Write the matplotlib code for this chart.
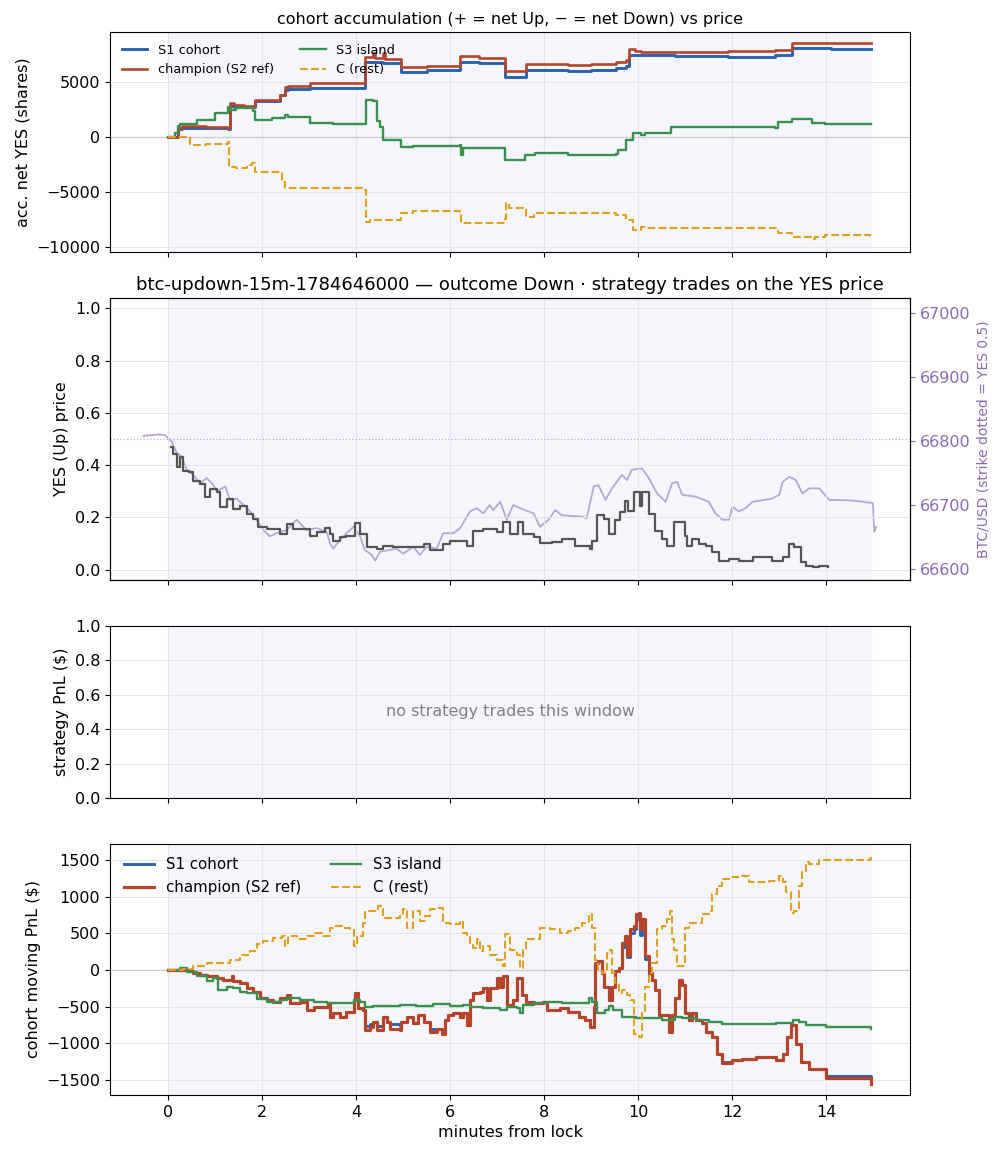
import matplotlib
matplotlib.use("Agg")
import matplotlib.pyplot as plt
from matplotlib.ticker import MultipleLocator

# ---- panel 1: cohort accumulation (net YES shares) ----
acc_s1_t = [0, 0.18, 0.21, 0.30, 0.80, 1.28, 1.31, 1.40, 1.84, 2.38, 2.48, 2.55, 3.01, 4.18, 4.57,
            4.96, 5.50, 6.21, 6.60, 7.16, 7.61, 8.50, 9.00, 9.53, 9.74, 9.81, 10.06, 10.78, 11.91,
            12.91, 13.27, 13.98, 14.10, 14.95]
acc_s1_v = [0, 0, 700, 850, 800, 700, 2800, 2750, 3300, 3800, 4270, 4330, 4420, 6850, 6750,
            5940, 6100, 6850, 6700, 5480, 6090, 6030, 6100, 6240, 6500, 7450, 7450, 7360, 7300,
            7450, 8060, 8120, 7970, 7970]
acc_ch_t = [0, 0.18, 0.21, 0.30, 0.80, 1.28, 1.31, 1.40, 1.60, 1.84, 2.38, 2.48, 2.55, 3.01, 4.18,
            4.36, 4.40, 4.57, 4.62, 4.96, 5.50, 6.21, 6.60, 7.16, 7.61, 8.50, 9.00, 9.53, 9.74,
            9.81, 9.92, 10.06, 10.78, 11.91, 12.91, 13.27, 13.98, 14.10, 14.95]
acc_ch_v = [0, 0, 800, 1000, 900, 790, 3100, 2900, 2800, 3360, 3820, 4580, 4640, 4880, 7240,
            7600, 7150, 7600, 7100, 6390, 6500, 7360, 7150, 6030, 6640, 6550, 6600, 6790, 7000,
            7970, 7800, 7760, 7760, 7850, 7900, 8515, 8575, 8515, 8515]
acc_s3_t = [0, 0.14, 0.21, 0.25, 0.60, 1.00, 1.28, 1.31, 1.45, 1.81, 1.84, 2.20, 2.48, 2.55, 3.01,
            3.50, 4.18, 4.20, 4.36, 4.45, 4.50, 4.57, 4.96, 5.21, 6.21, 6.22, 6.28, 7.16, 7.59,
            7.80, 8.50, 9.53, 9.57, 9.74, 9.89, 10.06, 10.14, 10.56, 10.70, 12.91, 12.98, 13.27,
            13.62, 13.69, 13.98, 14.95]
acc_s3_v = [0, 330, 1000, 1180, 1550, 2200, 2700, 2500, 2600, 2400, 1545, 1700, 2000, 1800, 1240,
            1150, 1150, 3360, 3300, 1500, 940, -270, -880, -800, -730, -1640, -1030, -2090, -1640,
            -1485, -1640, -1545, -1180, -270, 330, 180, 390, 390, 880, 850, 1390, 1600,
            1600, 1300, 1180, 1180]
acc_c_t = [0, 0.14, 0.46, 0.80, 1.28, 1.30, 1.45, 1.67, 1.77, 1.84, 2.38, 2.41, 2.48, 4.18, 4.20,
           4.30, 4.96, 5.21, 6.21, 6.22, 7.16, 7.18, 7.25, 7.61, 7.79, 9.53, 9.74, 9.89, 10.06,
           10.14, 12.91, 12.98, 13.27, 13.69, 13.75, 13.98, 14.95]
acc_c_v = [0, 0, -730, -640, -420, -2700, -2850, -2545, -2330, -3150, -3240, -4060, -4670, -4820,
           -7700, -7545, -6940, -6700, -7090, -7790, -7480, -6030, -6480, -7240, -6940, -7090,
           -7545, -8450, -8150, -8300, -8300, -8760, -9060, -9300, -9060, -8940, -8940]

# ---- panel 2: YES price and BTC ----
yes_t = [0.05, 0.11, 0.18, 0.25, 0.32, 0.43, 0.53, 0.67, 0.78, 0.89, 1.03, 1.10, 1.24, 1.38, 1.52,
         1.67, 1.81, 1.91, 2.09, 2.38, 2.52, 2.66, 3.01, 3.16, 3.33, 3.44, 3.51, 3.65, 3.79, 3.97,
         4.08, 4.22, 4.43, 4.57, 4.79, 5.21, 5.43, 5.57, 5.85, 5.99, 6.21, 6.35, 6.49, 6.70, 6.99,
         7.13, 7.27, 7.45, 7.55, 7.77, 7.91, 8.16, 8.37, 8.65, 8.98, 9.01, 9.12, 9.26, 9.37, 9.51,
         9.62, 9.72, 9.79, 9.90, 10.04, 10.08, 10.22, 10.36, 10.51, 10.61, 10.75, 10.86, 11.00,
         11.04, 11.15, 11.29, 11.43, 11.57, 11.72, 11.93, 12.14, 12.43, 12.85, 13.07, 13.21,
         13.32, 13.46, 13.57, 13.71, 13.85, 14.03]
yes_p = [0.469, 0.443, 0.392, 0.430, 0.379, 0.373, 0.341, 0.328, 0.277, 0.309, 0.296, 0.239, 0.271,
         0.232, 0.245, 0.213, 0.194, 0.162, 0.156, 0.137, 0.175, 0.156, 0.130, 0.143, 0.160, 0.137,
         0.111, 0.124, 0.130, 0.178, 0.137, 0.086, 0.079, 0.092, 0.088, 0.086, 0.098, 0.075, 0.098,
         0.109, 0.111, 0.092, 0.149, 0.156, 0.143, 0.181, 0.137, 0.181, 0.137, 0.124, 0.101, 0.105,
         0.117, 0.092, 0.079, 0.111, 0.207, 0.194, 0.137, 0.188, 0.220, 0.264, 0.226, 0.296, 0.245,
         0.296, 0.213, 0.149, 0.117, 0.092, 0.181, 0.181, 0.130, 0.092, 0.117, 0.098, 0.092, 0.066,
         0.034, 0.041, 0.034, 0.047, 0.034, 0.047, 0.098, 0.086, 0.028, 0.015, 0.009, 0.015, 0.009]
btc_t = [-0.53, -0.21, -0.07, 0.00, 0.07, 0.18, 0.28, 0.39, 0.53, 0.67, 0.82, 0.96, 1.03, 1.21,
         1.31, 1.45, 1.60, 1.74, 1.88, 2.02, 2.16, 2.30, 2.52, 2.73, 2.94, 3.16, 3.37, 3.44, 3.51,
         3.65, 3.79, 3.94, 4.08, 4.18, 4.33, 4.40, 4.50, 4.86, 5.00, 5.21, 5.35, 5.50, 5.71, 5.85,
         6.06, 6.21, 6.42, 6.56, 6.70, 6.84, 6.91, 7.06, 7.20, 7.34, 7.48, 7.77, 7.91, 8.09, 8.23,
         8.37, 8.80, 8.90, 9.05, 9.15, 9.30, 9.44, 9.54, 9.65, 9.76, 9.86, 10.08, 10.22, 10.40,
         10.58, 10.72, 10.83, 10.93, 11.22, 11.50, 11.64, 11.79, 11.93, 12.00, 12.14, 12.28, 12.43,
         12.85, 13.00, 13.07, 13.21, 13.35, 13.49, 13.64, 13.85, 14.06, 14.56, 14.99, 15.02, 15.06]
btc_usd = [66808, 66810, 66809, 66804, 66799, 66781, 66776, 66755, 66747, 66734, 66742, 66731,
           66721, 66729, 66708, 66710, 66700, 66690, 66677, 66661, 66651, 66656, 66661, 66677,
           66661, 66664, 66658, 66640, 66632, 66645, 66656, 66666, 66651, 66630, 66622, 66613,
           66627, 66632, 66624, 66635, 66622, 66635, 66632, 66656, 66656, 66664, 66690, 66695,
           66687, 66700, 66692, 66705, 66677, 66700, 66695, 66687, 66666, 66677, 66692, 66684,
           66682, 66679, 66729, 66731, 66708, 66726, 66736, 66747, 66739, 66755, 66757, 66742,
           66718, 66705, 66734, 66736, 66716, 66713, 66705, 66687, 66677, 66677, 66697, 66690,
           66695, 66705, 66710, 66716, 66736, 66744, 66739, 66718, 66726, 66726, 66708, 66707,
           66703, 66658, 66666]
strike = 66804

# ---- panel 4: cohort moving PnL ($) ----
pnl_ch_t = [0, 0.25, 0.39, 0.53, 0.67, 0.82, 1.03, 1.17, 1.35, 1.38, 1.52, 1.67, 1.81, 1.95, 2.09,
            2.23, 2.38, 2.52, 2.59, 2.80, 2.94, 3.09, 3.40, 3.44, 3.51, 3.65, 3.79, 3.94, 3.97,
            4.04, 4.15, 4.18, 4.29, 4.36, 4.43, 4.57, 4.65, 4.72, 4.93, 4.96, 5.07, 5.21, 5.32,
            5.43, 5.57, 5.71, 5.82, 5.89, 5.96, 6.06, 6.21, 6.28, 6.35, 6.42, 6.49, 6.63, 6.70,
            6.77, 6.84, 6.99, 7.06, 7.13, 7.20, 7.34, 7.41, 7.52, 7.62, 7.77, 7.98, 8.05, 8.33,
            8.51, 8.73, 8.87, 8.98, 9.05, 9.08, 9.15, 9.22, 9.26, 9.37, 9.44, 9.51, 9.58, 9.65,
            9.72, 9.76, 9.83, 9.90, 9.94, 10.01, 10.04, 10.08, 10.15, 10.22, 10.29, 10.36, 10.43,
            10.58, 10.65, 10.72, 10.79, 10.86, 10.93, 11.00, 11.07, 11.15, 11.22, 11.36, 11.43,
            11.57, 11.68, 11.79, 12.00, 12.21, 12.50, 12.93, 13.07, 13.17, 13.25, 13.35, 13.46,
            13.64, 13.99, 14.93, 14.96]
pnl_ch_v = [0, 0, -18, -41, -64, -87, -110, -133, -87, -156, -179, -248, -294, -385, -408,
            -431, -385, -339, -454, -431, -546, -500, -454, -637, -592, -637, -569, -408, -317,
            -523, -546, -821, -775, -706, -821, -637, -706, -798, -821, -706, -637, -729, -615,
            -706, -844, -798, -867, -683, -615, -592, -637, -592, -752, -408, -317, -294, -248,
            -408, -248, -110, -225, -87, -477, -408, -110, -339, -431, -454, -431, -546, -523,
            -569, -637, -683, -775, -500, 96, 119, -41, -225, -408, -225, -18, 28, 372,
            463, 211, 555, 601, 761, 784, 555, 693, 188, -41, -133, -271, -615,
            -615, -844, -615, -385, -133, -202, -592, -683, -592, -683, -729, -844,
            -913, -1142, -1271, -1234, -1211, -1188, -1234, -1142, -913, -752, -1005, -1257,
            -1349, -1472, -1472, -1555]
pnl_s1_v = [0, 0, -18, -41, -64, -87, -110, -133, -87, -156, -179, -248, -294, -385, -408,
            -431, -385, -339, -454, -431, -546, -500, -454, -637, -592, -637, -569, -408, -317,
            -523, -546, -760, -740, -706, -760, -637, -706, -740, -760, -706, -637, -729, -615,
            -706, -810, -798, -840, -683, -615, -592, -637, -592, -752, -408, -317, -294, -248,
            -408, -248, -110, -225, -87, -477, -408, -110, -339, -431, -454, -431, -546, -523,
            -569, -637, -683, -775, -500, 96, 119, -41, -225, -408, -225, -18, 28, 320,
            420, 180, 500, 560, 700, 740, 480, 650, 150, -41, -133, -271, -615,
            -615, -844, -615, -385, -133, -202, -592, -683, -592, -683, -729, -844,
            -913, -1142, -1250, -1234, -1211, -1188, -1234, -1142, -913, -752, -1005, -1257,
            -1349, -1440, -1440, -1520]
pnl_s3_t = [0, 0.25, 0.39, 0.60, 0.82, 0.96, 1.06, 1.24, 1.38, 1.52, 1.67, 1.88, 2.09, 2.38, 2.52,
            2.80, 3.09, 3.37, 3.65, 3.94, 4.08, 4.18, 4.36, 4.65, 4.93, 5.28, 5.64, 5.99, 6.28,
            6.42, 6.70, 7.06, 7.20, 7.41, 7.48, 7.55, 7.77, 8.05, 8.37, 8.80, 8.94, 9.01, 9.12,
            9.30, 9.37, 9.47, 9.65, 9.94, 10.22, 10.51, 10.79, 10.93, 11.22, 11.50, 11.79, 12.93,
            13.28, 13.42, 13.57, 13.99, 14.35, 14.95]
pnl_s3_v = [0, 28, -32, -87, -156, -110, -271, -225, -248, -294, -317, -399, -431, -408, -385,
            -408, -431, -454, -454, -408, -431, -500, -491, -486, -477, -486, -463, -491, -477,
            -500, -523, -546, -500, -523, -592, -477, -454, -431, -454, -454, -385, -431, -592,
            -546, -491, -546, -637, -660, -660, -683, -637, -660, -683, -706, -738, -729,
            -683, -706, -752, -775, -775, -798]
pnl_c_t = [0, 0.32, 0.53, 0.82, 1.10, 1.31, 1.52, 1.74, 1.88, 2.02, 2.23, 2.41, 2.48, 2.55, 2.73,
           2.94, 3.09, 3.30, 3.44, 3.51, 3.72, 3.87, 3.94, 4.01, 4.15, 4.18, 4.36, 4.47, 4.57,
           4.93, 5.00, 5.07, 5.21, 5.35, 5.46, 5.57, 5.71, 5.85, 5.99, 6.21, 6.28, 6.35, 6.42,
           6.49, 6.56, 6.63, 6.70, 6.84, 6.99, 7.13, 7.16, 7.27, 7.41, 7.48, 7.55, 7.62, 7.77,
           7.91, 8.12, 8.33, 8.51, 8.65, 8.80, 8.94, 9.01, 9.08, 9.15, 9.22, 9.33, 9.40, 9.44,
           9.51, 9.58, 9.65, 9.76, 9.83, 9.90, 10.01, 10.08, 10.15, 10.22, 10.29, 10.40, 10.51,
           10.61, 10.68, 10.72, 10.75, 10.83, 10.93, 11.00, 11.07, 11.22, 11.36, 11.50, 11.57,
           11.68, 11.79, 11.93, 12.21, 12.36, 12.78, 13.00, 13.07, 13.14, 13.25, 13.32, 13.42,
           13.49, 13.57, 13.64, 13.85, 14.35, 14.93, 14.96]
pnl_c_v = [0, 14, 60, 96, 96, 142, 211, 257, 349, 394, 440, 463, 326, 463, 417,
           463, 509, 463, 578, 601, 578, 555, 326, 463, 647, 807, 807, 876, 716,
           738, 830, 578, 807, 670, 738, 830, 853, 647, 624, 670, 509, 463, 372,
           303, 417, 257, 326, 211, 142, 50, 486, 280, 211, 28, 280, 417, 417,
           578, 555, 509, 532, 578, 647, 761, 578, 142, -18, -41, 234, 280, -41,
           -179, -317, -271, -339, -408, -867, -913, -592, -225, -41, 96, 555, 601,
           693, 807, 417, 280, 50, 50, 578, 647, 647, 761, 807, 1037,
           1151, 1243, 1266, 1289, 1197, 1220, 1289, 1197, 1060, 784, 807, 1151,
           1358, 1472, 1449, 1495, 1495, 1518, 1541]

c_s1 = '#2a62b0'
c_ch = '#b5452a'
c_s3 = '#3a914f'
c_c = '#dea01e'
span_col = '#f5f6fb'
purple = '#8c6bb1'
lock_end = 14.95

plt.rcParams['font.size'] = 11.5

fig, axes = plt.subplots(4, 1, sharex=True, figsize=(10.03, 11.56),
                         gridspec_kw=dict(height_ratios=[220, 282, 172, 251], hspace=0.199,
                                          left=0.1097, right=0.9073, top=0.9723, bottom=0.0528))
ax1, ax2, ax3, ax4 = axes

for ax in (ax1, ax3, ax4):
    ax.axvspan(0, lock_end, color=span_col, zorder=0)
for ax in axes:
    ax.grid(True, color='#e4e4ea', lw=0.7)
    ax.set_axisbelow(True)

# panel 1
ax1.axhline(0, color='#cccccc', lw=0.9, zorder=1)
ax1.plot(acc_s1_t, acc_s1_v, drawstyle='steps-post', color=c_s1, lw=2.1, label='S1 cohort')
ax1.plot(acc_ch_t, acc_ch_v, drawstyle='steps-post', color=c_ch, lw=1.9, label='champion (S2 ref)')
ax1.plot(acc_s3_t, acc_s3_v, drawstyle='steps-post', color=c_s3, lw=1.7, label='S3 island')
ax1.plot(acc_c_t, acc_c_v, drawstyle='steps-post', color=c_c, lw=1.5, ls='--', label='C (rest)')
ax1.set_ylim(-10450, 9550)
ax1.set_ylabel('acc. net YES (shares)')
ax1.set_title('cohort accumulation (+ = net Up, \u2212 = net Down) vs price', fontsize=11.5)
ax1.legend(loc='upper left', ncol=2, frameon=False, fontsize=9.3)

# panel 2: YES axis on top, BTC twin underneath (carries the shaded span)
ax2b = ax2.twinx()
ax2b.axvspan(0, lock_end, color=span_col, zorder=0)
ax2b.plot(btc_t, btc_usd, color='#b8a6d4', lw=1.3, zorder=2)
ax2b.set_ylim(66583, 67023)
ax2b.yaxis.set_major_locator(MultipleLocator(100))
ax2b.set_ylabel('BTC/USD (strike dotted = YES 0.5)', fontsize=10, color=purple)
ax2b.tick_params(axis='y', colors=purple, labelsize=11.5)
ax2.set_zorder(ax2b.get_zorder() + 1)
ax2.patch.set_visible(False)
ax2.axhline(0.5, color='#b9a9d4', lw=0.9, ls=':', zorder=1)
ax2.plot(yes_t, yes_p, drawstyle='steps-post', color='#555555', lw=1.6, zorder=3)
ax2.set_ylim(-0.04, 1.04)
ax2.set_ylabel('YES (Up) price')
ax2.set_title('btc-updown-15m-1784646000 \u2014 outcome Down \u00b7 strategy trades on the YES price',
              fontsize=13)

# panel 3
ax3.set_ylim(0, 1)
ax3.set_ylabel('strategy PnL ($)')
ax3.text(0.5, 0.5, 'no strategy trades this window', transform=ax3.transAxes,
         ha='center', va='center', color='gray', fontsize=11.5)

# panel 4
ax4.axhline(0, color='#cccccc', lw=0.9, zorder=1)
ax4.plot(pnl_ch_t, pnl_s1_v, drawstyle='steps-post', color=c_s1, lw=2.1, label='S1 cohort')
ax4.plot(pnl_ch_t, pnl_ch_v, drawstyle='steps-post', color=c_ch, lw=2.3, label='champion (S2 ref)')
ax4.plot(pnl_s3_t, pnl_s3_v, drawstyle='steps-post', color=c_s3, lw=1.7, label='S3 island')
ax4.plot(pnl_c_t, pnl_c_v, drawstyle='steps-post', color=c_c, lw=1.5, ls='--', label='C (rest)')
ax4.set_ylim(-1705, 1720)
ax4.set_ylabel('cohort moving PnL ($)')
ax4.legend(loc='upper left', ncol=2, frameon=False, fontsize=10.8)
ax4.set_xlabel('minutes from lock')
ax4.set_xlim(-1.24, 15.78)
ax4.set_xticks(range(0, 16, 2))

fig.savefig('out.png', dpi=100)
